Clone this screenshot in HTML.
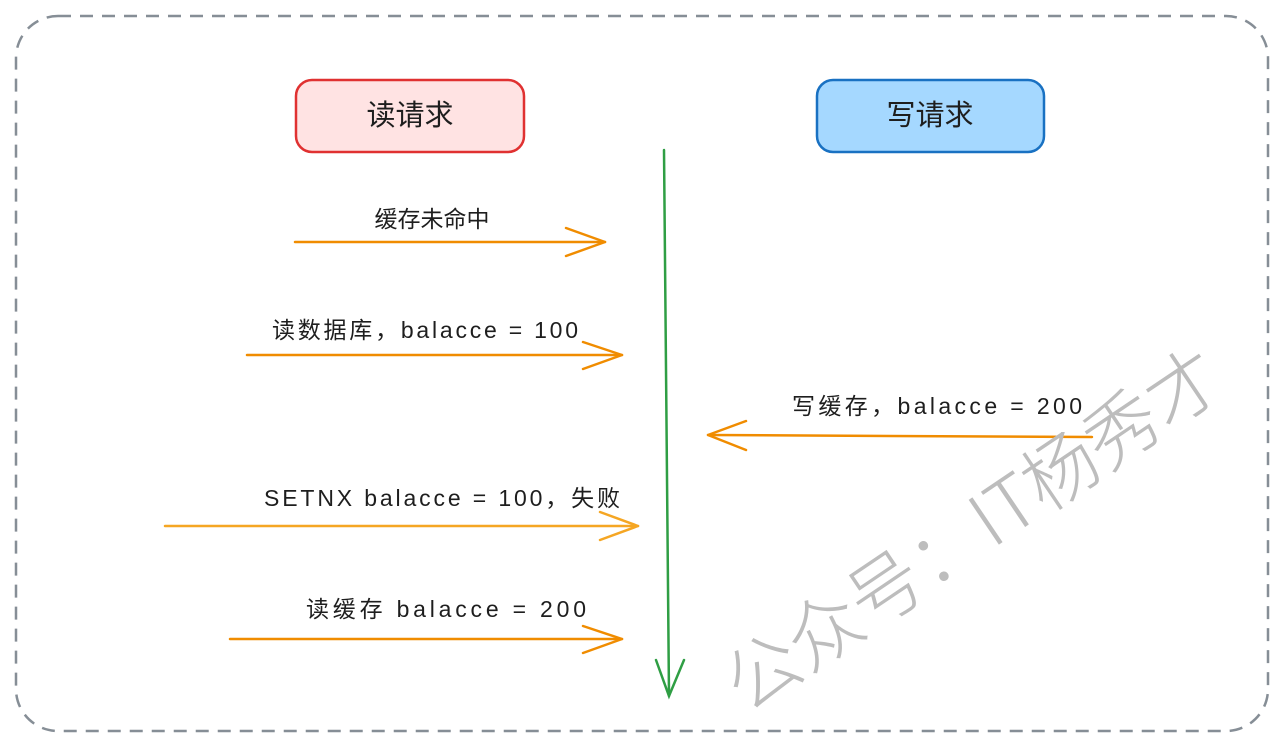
<!DOCTYPE html>
<html><head><meta charset="utf-8"><style>
html,body{margin:0;padding:0;background:#fff;}
svg{display:block}
text{font-family:"Liberation Sans","Noto Sans CJK SC",sans-serif;fill:#1e1e1e}
</style></head><body>
<svg width="1280" height="746" viewBox="0 0 1280 746" xmlns="http://www.w3.org/2000/svg">
<rect x="16" y="16" width="1252" height="715" rx="42" fill="none" stroke="#868e96" stroke-width="2.5" stroke-dasharray="13 9"/>
<rect x="296" y="80" width="228" height="72" rx="16" fill="#ffe3e3" stroke="#e03131" stroke-width="2.5"/>
<text x="410" y="125" font-size="29" text-anchor="middle">读请求</text>
<rect x="817" y="80" width="227" height="72" rx="16" fill="#a5d8ff" stroke="#1971c2" stroke-width="2.5"/>
<text x="930" y="125" font-size="29" text-anchor="middle">写请求</text>
<g fill="none" stroke="#2f9e44" stroke-width="2.5" stroke-linecap="round">
<path d="M664 150 L669 696"/><path d="M656 660 L669 696 L684 660"/>
</g>
<g fill="none" stroke="#f08c00" stroke-width="2.5" stroke-linecap="round" stroke-linejoin="round">
<path d="M295 242 L605 242"/><path d="M566 228 L605 242 L566 256"/>
<path d="M247 355 L622 355"/><path d="M583 342 L622 355 L583 369"/>
<path d="M1092 437 L708 435"/><path d="M746 421 L708 435 L746 450"/>
<path d="M230 639 L622 639"/><path d="M583 626 L622 639 L583 653"/>
</g>
<g fill="none" stroke="#f5a623" stroke-width="2.5" stroke-linecap="round" stroke-linejoin="round">
<path d="M165 526 L638 526"/><path d="M600 512 L638 526 L600 540"/>
</g>
<text x="432" y="227" font-size="23" text-anchor="middle">缓存未命中</text>
<text x="425" y="338" font-size="23" text-anchor="middle" textLength="306">读数据库，balacce = 100</text>
<text x="937" y="414" font-size="23" text-anchor="middle" textLength="290">写缓存，balacce = 200</text>
<text x="442" y="506" font-size="23" text-anchor="middle" textLength="356">SETNX balacce = 100，失败</text>
<text x="446" y="617" font-size="23" text-anchor="middle" textLength="280">读缓存 balacce = 200</text>
<text x="0" y="0" font-size="74" text-anchor="middle" style="fill:#bdbdbd;font-family:'Noto Sans CJK SC',sans-serif;font-weight:300" transform="translate(988,552) rotate(-34)">公众号：IT杨秀才</text>
</svg>
</body></html>
